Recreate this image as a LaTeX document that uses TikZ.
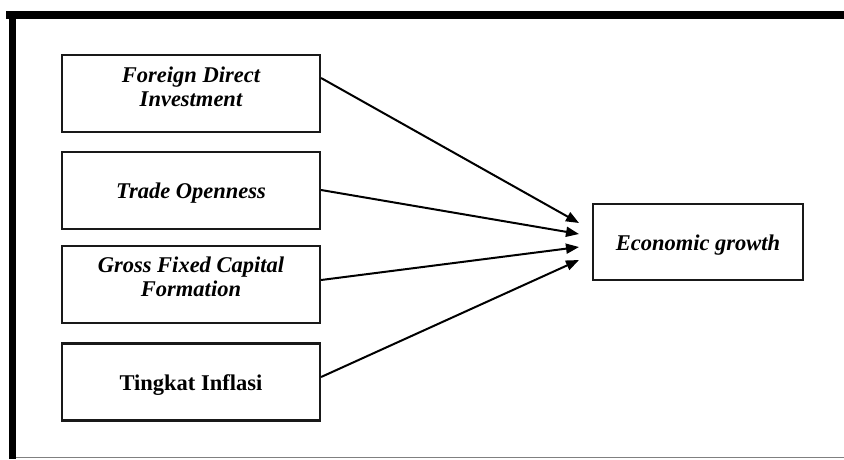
\documentclass[tikz,border=0pt]{standalone}
\usepackage{fontspec}
\setmainfont{Liberation Serif}
\usetikzlibrary{arrows.meta}
\begin{document}
\begin{tikzpicture}[x=1pt,y=-1pt,
  varbox/.style={draw=black!90, line width=2.2pt, minimum width=258pt, minimum height=77pt, inner sep=0pt},
  lbl/.style={font=\fontsize{22.5}{24}\selectfont\bfseries\itshape, align=center, inner sep=0pt},
  link/.style={line width=2pt, -{Triangle[length=13pt,width=10pt]}}]
\useasboundingbox (0,0) rectangle (844,459);
\fill[white] (0,0) rectangle (844,459);
% frame
\fill[black] (6,11) rectangle (844,19);
\fill[black] (9,11) rectangle (16,459);
\draw[gray, line width=1pt] (16,457.5) -- (844,457.5);
% boxes
\node[varbox] (fdi) at (191,93.5) {};
\node[varbox] (to) at (191,190.5) {};
\node[varbox] (gfcf) at (191,284.5) {};
\node[varbox] (ti) at (191,382) {};
\node[varbox, minimum width=210pt, minimum height=76pt] (eg) at (698,242) {};
% texts
\node[lbl] (tfdi) at (191,87) {Foreign Direct\\Investment};
\node[lbl] (tto) at (191,193) {Trade Openness};
\node[lbl] (tgfcf) at (191,277) {Gross Fixed Capital\\Formation};
\node[lbl, font=\fontsize{22.5}{24}\selectfont\bfseries\upshape] (tti) at (191,385) {Tingkat Inflasi};
\node[lbl] (teg) at (698,245) {Economic growth};
% arrows
\coordinate (e1) at (579,223);
\coordinate (e2) at (579,234);
\coordinate (e3) at (579,247);
\coordinate (e4) at (579,260);
\draw[link] (fdi.east |- 0,78) -- (e1);
\draw[link] (to.east |- 0,190) -- (e2);
\draw[link] (gfcf.east |- 0,280) -- (e3);
\draw[link] (ti.east |- 0,377) -- (e4);
\end{tikzpicture}
\end{document}
